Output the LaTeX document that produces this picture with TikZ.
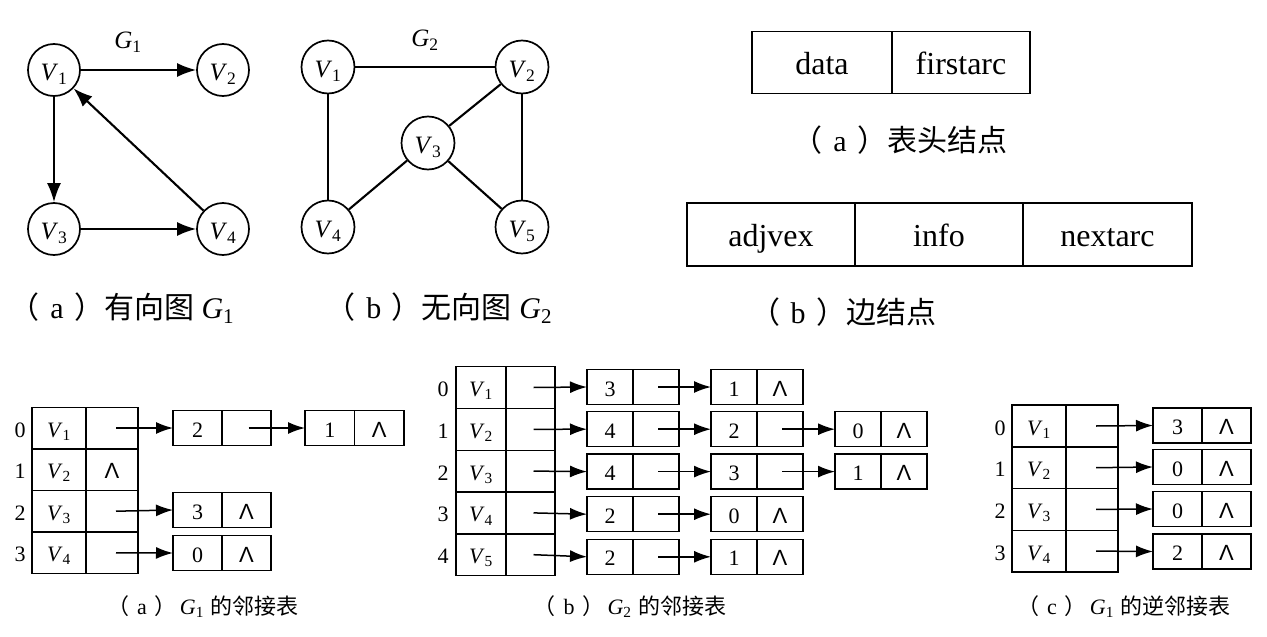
\documentclass[tikz,border=0pt]{standalone}
\usepackage{fontspec}
\setmainfont{Liberation Serif}
\newfontfamily\cjk{Noto Sans CJK SC}
\newfontfamily\lsans{Liberation Sans}
\usetikzlibrary{arrows.meta,calc}
\newcommand\Vx[1]{\textit{V}\textsubscript{#1}}
\newcommand\Gx[1]{\textit{G}\textsubscript{#1}}
\newcommand\nil{{\lsans Λ}}
\newcommand\fsz[1]{\fontsize{#1pt}{#1pt}\selectfont}
\newcommand\pl[1]{{\cjk （}\hspace{0.35em}#1\hspace{0.35em}{\cjk ）}}
\newcommand\lnode[6]{%
  \node[lcell,minimum width=#4pt,anchor=west] (#1d) at (#2,#3) {#5};
  \node[lcell,minimum width=#4pt,anchor=west] (#1p) at (#1d.east) {#6};}
\begin{document}
\begin{tikzpicture}[x=1pt,y=-1pt,
  vtx/.style={circle,draw,line width=1.7pt,minimum size=52pt,inner sep=0pt,font=\fsz{25},text height=21pt,text depth=0pt},
  gedge/.style={line width=2.1pt},
  garc/.style={gedge,-{Latex[length=19pt,width=14pt]}},
  fieldbox/.style={draw,line width=1.6pt,outer sep=0pt,inner sep=0pt,minimum height=62pt,font=\fsz{32},text height=25pt,text depth=2pt},
  cell/.style={draw,line width=1.4pt,outer sep=0pt,inner sep=0pt,font=\fsz{22},text height=18pt,text depth=0pt},
  hcell/.style={cell,minimum height=41.6pt},
  lcell/.style={cell,minimum height=35pt},
  ptr/.style={line width=1.5pt,-{Latex[length=17pt,width=12pt]}},
  idx/.style={font=\fsz{22},text height=18pt,text depth=0pt},
  bigcap/.style={font=\fsz{30}},
  smallcap/.style={font=\fsz{22}},
  glabel/.style={font=\fsz{25}}]
\useasboundingbox (0,0) rectangle (1267,637);

% ---------- G1 ----------
\node[vtx] (a1) at (54,70) {\Vx{1}};
\node[vtx] (a2) at (223,70) {\Vx{2}};
\node[vtx] (a3) at (54,229) {\Vx{3}};
\node[vtx] (a4) at (223,229) {\Vx{4}};
\node[glabel] (g1lab) at (128,42) {\Gx{1}};
\draw[garc] (a1) -- (a2);
\draw[garc] (a1) -- (a3);
\draw[garc] (a3) -- (a4);
\draw[garc] (a4) -- (a1);
\node[bigcap] (capG1) at (122,308) {\pl{a}{\cjk 有向图} \Gx{1}};

% ---------- G2 ----------
\node[vtx,minimum size=53pt] (b1) at (328,67) {\Vx{1}};
\node[vtx,minimum size=53pt] (b2) at (522,67) {\Vx{2}};
\node[vtx,minimum size=53pt] (b3) at (428,143) {\Vx{3}};
\node[vtx,minimum size=53pt] (b4) at (328,227) {\Vx{4}};
\node[vtx,minimum size=53pt] (b5) at (522,227) {\Vx{5}};
\node[glabel] (g2lab) at (425,40) {\Gx{2}};
\draw[gedge] (b1) -- (b2);
\draw[gedge] (b1) -- (b4);
\draw[gedge] (b2) -- (b3);
\draw[gedge] (b2) -- (b5);
\draw[gedge] (b3) -- (b4);
\draw[gedge] (b3) -- (b5);
\node[bigcap] (capG2) at (439,308) {\pl{b}{\cjk 无向图} \Gx{2}};

% ---------- node formats ----------
\node[fieldbox,minimum width=140pt,anchor=west] (hd) at (752,62.5) {data};
\node[fieldbox,minimum width=138pt,anchor=west] (hf) at (hd.east) {firstarc};
\node[bigcap] (capHead) at (900,140) {\pl{a}{\cjk 表头结点}};
\node[fieldbox,minimum width=168pt,minimum height=63pt,anchor=west] (ea) at (687,234.5) {adjvex};
\node[fieldbox,minimum width=168pt,minimum height=63pt,anchor=west] (ei) at (ea.east) {info};
\node[fieldbox,minimum width=169pt,minimum height=63pt,anchor=west] (en) at (ei.east) {nextarc};
\node[bigcap] (capEdge) at (843,312) {\pl{b}{\cjk 边结点}};

% ---------- (a) adjacency list of G1 ----------
\foreach \i/\v/\c in {0/1/{},1/2/\nil,2/3/{},3/4/{}} {
  \node[hcell,minimum width=54pt] (ah\i) at (59,{428+41.6*\i}) {\Vx{\v}};
  \node[hcell,minimum width=52pt] (ap\i) at (112,{428+41.6*\i}) {\c};
  \node[idx] (ai\i) at (20,{428+41.6*\i}) {\i};
}
\lnode{a0x}{173}{428}{49}{2}{}
\lnode{a0y}{305}{428}{49.5}{1}{\nil}
\lnode{a2x}{173}{510}{49}{3}{\nil}
\lnode{a3x}{173}{553}{49}{0}{\nil}
\draw[ptr] ($(ap0.center)+(4,0)$) -- (a0xd.west);
\draw[ptr] ($(a0xp.center)+(2,0)$) -- (a0yd.west);
\draw[ptr] ($(ap2.center)+(4,0)$) -- (a2xd.west);
\draw[ptr] ($(ap3.center)+(4,0)$) -- (a3xd.west);
\node[smallcap] (capA) at (203,607) {\pl{a}\hspace{0.15em}\Gx{1}\hspace{0.3em}{\cjk 的邻接表}};

% ---------- (b) adjacency list of G2 ----------
\foreach \i/\v in {0/1,1/2,2/3,3/4,4/5} {
  \node[hcell,minimum width=50pt,minimum height=41.8pt] (bh\i) at (481,{387.5+41.8*\i}) {\Vx{\v}};
  \node[hcell,minimum width=49pt,minimum height=41.8pt] (bp\i) at (530.5,{387.5+41.8*\i}) {};
  \node[idx] (bi\i) at (443,{387.5+41.8*\i}) {\i};
}
\lnode{b0x}{587}{387}{46}{3}{}
\lnode{b0y}{711}{387}{46}{1}{\nil}
\lnode{b1x}{587}{429.2}{46}{4}{}
\lnode{b1y}{711}{429.2}{46}{2}{}
\lnode{b1z}{835}{429.2}{46}{0}{\nil}
\lnode{b2x}{587}{471.6}{46}{4}{}
\lnode{b2y}{711}{471.6}{46}{3}{}
\lnode{b2z}{835}{471.6}{46}{1}{\nil}
\lnode{b3x}{587}{514.2}{46}{2}{}
\lnode{b3y}{711}{514.2}{46}{0}{\nil}
\lnode{b4x}{587}{556.8}{46}{2}{}
\lnode{b4y}{711}{556.8}{46}{1}{\nil}
\foreach \i in {0,1,2,3,4} {
  \draw[ptr] ($(bp\i.center)+(3,0)$) -- (b\i xd.west);
  \draw[ptr] ($(b\i xp.center)+(2,0)$) -- (b\i yd.west);
}
\draw[ptr] ($(b1yp.center)+(2,0)$) -- (b1zd.west);
\draw[ptr] ($(b2yp.center)+(2,0)$) -- (b2zd.west);
\node[smallcap] (capB) at (630,607) {\pl{b}\hspace{0.15em}\Gx{2}\hspace{0.3em}{\cjk 的邻接表}};

% ---------- (c) inverse adjacency list of G1 ----------
\foreach \i/\v in {0/1,1/2,2/3,3/4} {
  \node[hcell,minimum width=54pt,minimum height=41.7pt] (ch\i) at (1039,{426+41.7*\i}) {\Vx{\v}};
  \node[hcell,minimum width=52pt,minimum height=41.7pt] (cp\i) at (1092,{426+41.7*\i}) {};
  \node[idx] (ci\i) at (1000,{426+41.7*\i}) {\i};
}
\lnode{c0x}{1153}{425.5}{49}{3}{\nil}
\lnode{c1x}{1153}{467}{49}{0}{\nil}
\lnode{c2x}{1153}{509}{49}{0}{\nil}
\lnode{c3x}{1153}{551.5}{49}{2}{\nil}
\foreach \i in {0,1,2,3} {
  \draw[ptr] ($(cp\i.center)+(4,0)$) -- (c\i xd.west);
}
\node[smallcap] (capC) at (1124,607) {\pl{c}\hspace{0.15em}\Gx{1}\hspace{0.3em}{\cjk 的逆邻接表}};
\end{tikzpicture}
\end{document}
